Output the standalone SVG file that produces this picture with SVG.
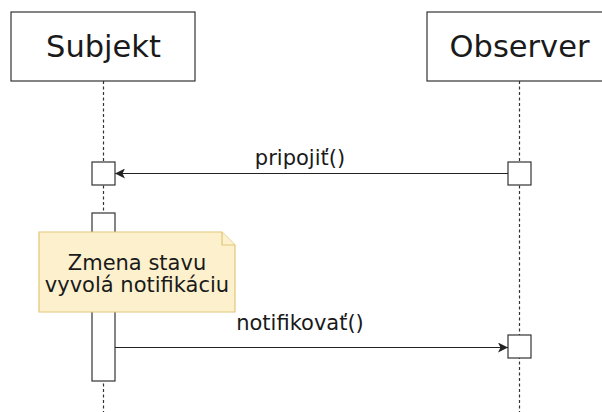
<svg xmlns="http://www.w3.org/2000/svg" width="602" height="412" viewBox="0 0 602 412">
  <style>
    .head { fill: #ffffff; stroke: #333333; stroke-width: 1.2; }
    .headtxt { font-family: "DejaVu Sans", Verdana, sans-serif; font-size: 30.5px; fill: #1a1a1a; text-anchor: middle; }
    .life { stroke: #333333; stroke-width: 1.2; stroke-dasharray: 3 2.5; fill: none; }
    .act { fill: #ffffff; stroke: #333333; stroke-width: 1.2; }
    .msg { stroke: #222222; stroke-width: 1.2; fill: none; }
    .lbl { font-family: "DejaVu Sans", Verdana, sans-serif; font-size: 21px; fill: #1a1a1a; text-anchor: middle; }
    .note { fill: #fdf1cd; stroke: #e2c77a; stroke-width: 1.2; }
  </style>
  <defs>
    <marker id="arrow" viewBox="0 0 10 10" refX="10" refY="5" markerWidth="10" markerHeight="10" markerUnits="userSpaceOnUse" orient="auto">
      <path d="M0,0 L10,5 L0,10 L2.5,5 Z" fill="#222222"/>
    </marker>
  </defs>

  <rect width="602" height="412" fill="#ffffff"/>

  <!-- lifelines -->
  <g id="lifelines">
    <line class="life" x1="103.5" y1="81" x2="103.5" y2="412"/>
    <line class="life" x1="519.5" y1="81" x2="519.5" y2="412"/>
  </g>

  <g id="subjekt">
    <rect class="head" x="11" y="12" width="184" height="69"/>
    <text class="headtxt" x="103.5" y="57">Subjekt</text>
  </g>

  <g id="observer">
    <rect class="head" x="427" y="12" width="184" height="69"/>
    <text class="headtxt" x="519.5" y="57">Observer</text>
  </g>

  <g id="subjekt-act1">
    <rect class="act" x="92" y="162" width="23" height="23"/>
  </g>
  <g id="subjekt-act2">
    <rect class="act" x="92" y="213" width="23" height="168"/>
  </g>
  <g id="observer-act1">
    <rect class="act" x="508" y="162" width="23" height="23"/>
  </g>
  <g id="observer-act2">
    <rect class="act" x="508" y="335" width="23" height="23"/>
  </g>

  <g id="note">
    <path class="note" d="M39,232 H222 L235,245 V312 H39 Z"/>
    <path class="note" d="M222,232 V245 H235"/>
    <text class="lbl" x="137" y="270">Zmena stavu</text>
    <text class="lbl" x="137" y="292">vyvolá notifikáciu</text>
  </g>

  <!-- messages -->
  <g id="connectors">
    <line class="msg" x1="508" y1="173.5" x2="115" y2="173.5" marker-end="url(#arrow)"/>
    <text class="lbl" x="300" y="165">pripojiť()</text>
    <line class="msg" x1="115" y1="347.5" x2="508" y2="347.5" marker-end="url(#arrow)"/>
    <text class="lbl" x="300" y="330">notifikovať()</text>
  </g>
</svg>
